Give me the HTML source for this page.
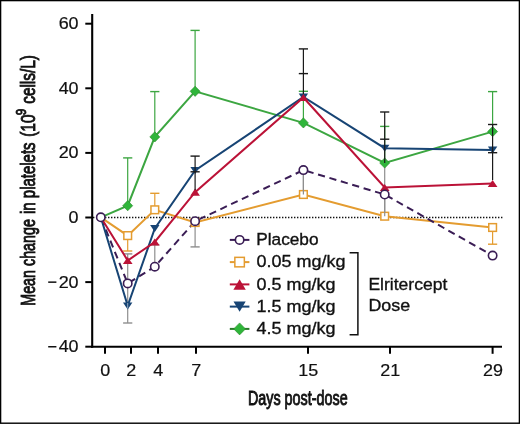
<!DOCTYPE html>
<html><head><meta charset="utf-8"><style>
html,body{margin:0;padding:0;background:#fff;}
svg{display:block;will-change:transform;}
text{font-family:"Liberation Sans",sans-serif;}
</style></head><body>
<svg width="520" height="424" viewBox="0 0 520 424">
<rect x="0.6" y="0.6" width="518.8" height="422.6" fill="#fff" stroke="#000" stroke-width="1.4"/>
<line x1="93" y1="217.5" x2="503.5" y2="217.5" stroke="#111" stroke-width="1.4" stroke-dasharray="1.4 1.6"/>
<line x1="127.70" y1="157.90" x2="127.70" y2="205.70" stroke="#3ca641" stroke-width="1.2"/><line x1="123.10" y1="157.90" x2="132.30" y2="157.90" stroke="#3ca641" stroke-width="1.4"/>
<line x1="127.70" y1="235.60" x2="127.70" y2="251.00" stroke="#e49c30" stroke-width="1.2"/><line x1="123.10" y1="251.00" x2="132.30" y2="251.00" stroke="#e49c30" stroke-width="1.4"/>
<line x1="127.70" y1="253.90" x2="127.70" y2="323.00" stroke="#8e8e8e" stroke-width="1.2"/><line x1="123.10" y1="253.90" x2="132.30" y2="253.90" stroke="#8e8e8e" stroke-width="1.4"/><line x1="123.10" y1="323.00" x2="132.30" y2="323.00" stroke="#8e8e8e" stroke-width="1.4"/>
<line x1="154.80" y1="91.60" x2="154.80" y2="136.90" stroke="#3ca641" stroke-width="1.2"/><line x1="150.20" y1="91.60" x2="159.40" y2="91.60" stroke="#3ca641" stroke-width="1.4"/>
<line x1="154.80" y1="193.30" x2="154.80" y2="209.80" stroke="#e49c30" stroke-width="1.2"/><line x1="150.20" y1="193.30" x2="159.40" y2="193.30" stroke="#e49c30" stroke-width="1.4"/>
<line x1="154.80" y1="244.80" x2="154.80" y2="266.70" stroke="#8e8e8e" stroke-width="1.2"/><line x1="150.20" y1="244.80" x2="159.40" y2="244.80" stroke="#8e8e8e" stroke-width="1.4"/>
<line x1="195.10" y1="30.40" x2="195.10" y2="91.30" stroke="#3ca641" stroke-width="1.2"/><line x1="190.50" y1="30.40" x2="199.70" y2="30.40" stroke="#3ca641" stroke-width="1.4"/>
<line x1="195.10" y1="221.00" x2="195.10" y2="246.90" stroke="#8e8e8e" stroke-width="1.2"/><line x1="190.50" y1="246.90" x2="199.70" y2="246.90" stroke="#8e8e8e" stroke-width="1.4"/>
<line x1="303.40" y1="91.30" x2="303.40" y2="122.90" stroke="#3ca641" stroke-width="1.2"/><line x1="298.80" y1="91.30" x2="308.00" y2="91.30" stroke="#3ca641" stroke-width="1.4"/>
<line x1="303.40" y1="170.00" x2="303.40" y2="194.00" stroke="#8e8e8e" stroke-width="1.2"/>
<line x1="384.70" y1="126.40" x2="384.70" y2="163.00" stroke="#3ca641" stroke-width="1.2"/><line x1="380.10" y1="126.40" x2="389.30" y2="126.40" stroke="#3ca641" stroke-width="1.4"/>
<line x1="384.70" y1="163.00" x2="384.70" y2="216.00" stroke="#8e8e8e" stroke-width="1.2"/>
<line x1="492.60" y1="91.60" x2="492.60" y2="131.60" stroke="#3ca641" stroke-width="1.2"/><line x1="488.00" y1="91.60" x2="497.20" y2="91.60" stroke="#3ca641" stroke-width="1.4"/>
<line x1="492.60" y1="227.50" x2="492.60" y2="244.20" stroke="#e49c30" stroke-width="1.2"/><line x1="488.00" y1="244.20" x2="497.20" y2="244.20" stroke="#e49c30" stroke-width="1.4"/>
<polyline points="100.8,217.3 127.7,235.6 154.8,209.8 195.1,222.5 303.4,194.5 384.7,216.2 492.6,227.5" fill="none" stroke="#e49c30" stroke-width="2" stroke-linejoin="miter"/>
<polyline points="100.8,217.3 127.7,283.4 154.8,266.7 195.1,221.2 303.4,170.1 384.7,194.5 492.6,255.6" fill="none" stroke="#3a1d55" stroke-width="2" stroke-linejoin="miter" stroke-dasharray="7.2 4.7" stroke-dashoffset="-1.5"/>
<polyline points="100.8,217.3 127.7,205.7 154.8,136.9 195.1,91.3 303.4,122.9 384.7,163.0 492.6,131.6" fill="none" stroke="#3ca641" stroke-width="2" stroke-linejoin="miter"/>
<polyline points="100.8,217.3 127.7,305.9 154.8,228.5 195.1,170.5 303.4,97.0 384.7,148.2 492.6,150.0" fill="none" stroke="#174474" stroke-width="2" stroke-linejoin="miter"/>
<polyline points="100.8,217.3 127.7,260.5 154.8,242.0 195.1,192.2 303.4,97.5 384.7,187.5 492.6,183.5" fill="none" stroke="#bb1237" stroke-width="2" stroke-linejoin="miter"/>
<rect x="123.85" y="231.75" width="7.70" height="7.70" fill="#fff" stroke="#e49c30" stroke-width="1.5"/>
<rect x="150.95" y="205.95" width="7.70" height="7.70" fill="#fff" stroke="#e49c30" stroke-width="1.5"/>
<rect x="191.25" y="218.65" width="7.70" height="7.70" fill="#fff" stroke="#e49c30" stroke-width="1.5"/>
<rect x="299.55" y="190.65" width="7.70" height="7.70" fill="#fff" stroke="#e49c30" stroke-width="1.5"/>
<rect x="380.85" y="212.35" width="7.70" height="7.70" fill="#fff" stroke="#e49c30" stroke-width="1.5"/>
<rect x="488.75" y="223.65" width="7.70" height="7.70" fill="#fff" stroke="#e49c30" stroke-width="1.5"/>
<line x1="303.40" y1="175.00" x2="303.40" y2="194.50" stroke="#8e8e8e" stroke-width="1.2"/>
<line x1="384.70" y1="199.40" x2="384.70" y2="216.20" stroke="#8e8e8e" stroke-width="1.2"/>
<polygon points="127.70,200.60 132.70,205.70 127.70,210.80 122.70,205.70" fill="#2fb53a" stroke="#2a8a2a" stroke-width="0.6"/>
<polygon points="154.80,131.80 159.80,136.90 154.80,142.00 149.80,136.90" fill="#2fb53a" stroke="#2a8a2a" stroke-width="0.6"/>
<polygon points="195.10,86.20 200.10,91.30 195.10,96.40 190.10,91.30" fill="#2fb53a" stroke="#2a8a2a" stroke-width="0.6"/>
<polygon points="303.40,117.80 308.40,122.90 303.40,128.00 298.40,122.90" fill="#2fb53a" stroke="#2a8a2a" stroke-width="0.6"/>
<polygon points="384.70,157.90 389.70,163.00 384.70,168.10 379.70,163.00" fill="#2fb53a" stroke="#2a8a2a" stroke-width="0.6"/>
<polygon points="492.60,126.50 497.60,131.60 492.60,136.70 487.60,131.60" fill="#2fb53a" stroke="#2a8a2a" stroke-width="0.6"/>
<polygon points="127.70,309.40 132.40,302.40 123.00,302.40" fill="#174474"/>
<polygon points="154.80,232.00 159.50,225.00 150.10,225.00" fill="#174474"/>
<polygon points="195.10,174.00 199.80,167.00 190.40,167.00" fill="#174474"/>
<polygon points="303.40,100.50 308.10,93.50 298.70,93.50" fill="#174474"/>
<polygon points="384.70,151.70 389.40,144.70 380.00,144.70" fill="#174474"/>
<polygon points="492.60,153.50 497.30,146.50 487.90,146.50" fill="#174474"/>
<polygon points="127.70,256.90 132.55,264.10 122.85,264.10" fill="#bb1237"/>
<polygon points="154.80,238.40 159.65,245.60 149.95,245.60" fill="#bb1237"/>
<polygon points="195.10,188.60 199.95,195.80 190.25,195.80" fill="#bb1237"/>
<polygon points="303.40,93.90 308.25,101.10 298.55,101.10" fill="#bb1237"/>
<polygon points="384.70,183.90 389.55,191.10 379.85,191.10" fill="#bb1237"/>
<polygon points="492.60,179.90 497.45,187.10 487.75,187.10" fill="#bb1237"/>
<line x1="195.10" y1="156.10" x2="195.10" y2="190.00" stroke="#1a1a1a" stroke-width="1.2"/><line x1="190.50" y1="156.10" x2="199.70" y2="156.10" stroke="#1a1a1a" stroke-width="1.4"/><line x1="190.50" y1="171.80" x2="199.70" y2="171.80" stroke="#1a1a1a" stroke-width="1.4"/>
<line x1="303.40" y1="48.90" x2="303.40" y2="94.00" stroke="#1a1a1a" stroke-width="1.2"/><line x1="298.80" y1="48.90" x2="308.00" y2="48.90" stroke="#1a1a1a" stroke-width="1.4"/><line x1="298.80" y1="73.60" x2="308.00" y2="73.60" stroke="#1a1a1a" stroke-width="1.4"/>
<line x1="384.70" y1="112.00" x2="384.70" y2="163.00" stroke="#1a1a1a" stroke-width="1.2"/><line x1="380.10" y1="112.00" x2="389.30" y2="112.00" stroke="#1a1a1a" stroke-width="1.4"/><line x1="380.10" y1="139.20" x2="389.30" y2="139.20" stroke="#1a1a1a" stroke-width="1.4"/>
<line x1="492.60" y1="124.50" x2="492.60" y2="180.00" stroke="#1a1a1a" stroke-width="1.2"/><line x1="488.00" y1="124.50" x2="497.20" y2="124.50" stroke="#1a1a1a" stroke-width="1.4"/><line x1="488.00" y1="152.70" x2="497.20" y2="152.70" stroke="#1a1a1a" stroke-width="1.4"/>
<line x1="127.70" y1="303.00" x2="127.70" y2="308.60" stroke="#8fa6be" stroke-width="1.0"/>
<circle cx="100.80" cy="217.30" r="4.2" fill="#fff" stroke="#3a1d55" stroke-width="1.6"/>
<circle cx="127.70" cy="283.40" r="4.2" fill="#fff" stroke="#3a1d55" stroke-width="1.6"/>
<circle cx="154.80" cy="266.70" r="4.2" fill="#fff" stroke="#3a1d55" stroke-width="1.6"/>
<circle cx="195.10" cy="221.20" r="4.2" fill="#fff" stroke="#3a1d55" stroke-width="1.6"/>
<circle cx="303.40" cy="170.10" r="4.2" fill="#fff" stroke="#3a1d55" stroke-width="1.6"/>
<circle cx="384.70" cy="194.50" r="4.2" fill="#fff" stroke="#3a1d55" stroke-width="1.6"/>
<circle cx="492.60" cy="255.60" r="4.2" fill="#fff" stroke="#3a1d55" stroke-width="1.6"/>
<line x1="92.2" y1="14" x2="92.2" y2="347.8" stroke="#000" stroke-width="2.1"/>
<line x1="91.2" y1="346.8" x2="502" y2="346.8" stroke="#000" stroke-width="2.1"/>
<line x1="85.3" y1="23.7" x2="92" y2="23.7" stroke="#000" stroke-width="2"/>
<line x1="85.3" y1="88.3" x2="92" y2="88.3" stroke="#000" stroke-width="2"/>
<line x1="85.3" y1="152.9" x2="92" y2="152.9" stroke="#000" stroke-width="2"/>
<line x1="85.3" y1="217.5" x2="92" y2="217.5" stroke="#000" stroke-width="2"/>
<line x1="85.3" y1="282.1" x2="92" y2="282.1" stroke="#000" stroke-width="2"/>
<line x1="85.3" y1="346.7" x2="92" y2="346.7" stroke="#000" stroke-width="2"/>
<line x1="105" y1="346" x2="105" y2="353.8" stroke="#000" stroke-width="2"/>
<line x1="131" y1="346" x2="131" y2="353.8" stroke="#000" stroke-width="2"/>
<line x1="158" y1="346" x2="158" y2="353.8" stroke="#000" stroke-width="2"/>
<line x1="196" y1="346" x2="196" y2="353.8" stroke="#000" stroke-width="2"/>
<line x1="308" y1="346" x2="308" y2="353.8" stroke="#000" stroke-width="2"/>
<line x1="390" y1="346" x2="390" y2="353.8" stroke="#000" stroke-width="2"/>
<line x1="492.6" y1="346" x2="492.6" y2="353.8" stroke="#000" stroke-width="2"/>
<text transform="translate(78.6,29.1) scale(1.07,1)" font-family="Liberation Sans, sans-serif" font-size="16.8" text-anchor="end" fill="#111" stroke="#111" stroke-width="0.2">60</text>
<text transform="translate(78.6,93.7) scale(1.07,1)" font-family="Liberation Sans, sans-serif" font-size="16.8" text-anchor="end" fill="#111" stroke="#111" stroke-width="0.2">40</text>
<text transform="translate(78.6,158.3) scale(1.07,1)" font-family="Liberation Sans, sans-serif" font-size="16.8" text-anchor="end" fill="#111" stroke="#111" stroke-width="0.2">20</text>
<text transform="translate(78.6,222.9) scale(1.07,1)" font-family="Liberation Sans, sans-serif" font-size="16.8" text-anchor="end" fill="#111" stroke="#111" stroke-width="0.2">0</text>
<text transform="translate(78.6,287.5) scale(1.07,1)" font-family="Liberation Sans, sans-serif" font-size="16.8" text-anchor="end" fill="#111" stroke="#111" stroke-width="0.2">20</text>
<rect x="48.2" y="281.4" width="8.2" height="1.5" fill="#111"/>
<text transform="translate(78.6,352.1) scale(1.07,1)" font-family="Liberation Sans, sans-serif" font-size="16.8" text-anchor="end" fill="#111" stroke="#111" stroke-width="0.2">40</text>
<rect x="48.2" y="346.0" width="8.2" height="1.5" fill="#111"/>
<text transform="translate(105.3,375.9) scale(1.07,1)" font-family="Liberation Sans, sans-serif" font-size="16.8" text-anchor="middle" fill="#111" stroke="#111" stroke-width="0.2">0</text>
<text transform="translate(131.3,375.9) scale(1.07,1)" font-family="Liberation Sans, sans-serif" font-size="16.8" text-anchor="middle" fill="#111" stroke="#111" stroke-width="0.2">2</text>
<text transform="translate(158.3,375.9) scale(1.07,1)" font-family="Liberation Sans, sans-serif" font-size="16.8" text-anchor="middle" fill="#111" stroke="#111" stroke-width="0.2">4</text>
<text transform="translate(196.3,375.9) scale(1.07,1)" font-family="Liberation Sans, sans-serif" font-size="16.8" text-anchor="middle" fill="#111" stroke="#111" stroke-width="0.2">7</text>
<text transform="translate(308.3,375.9) scale(1.07,1)" font-family="Liberation Sans, sans-serif" font-size="16.8" text-anchor="middle" fill="#111" stroke="#111" stroke-width="0.2">15</text>
<text transform="translate(390.3,375.9) scale(1.07,1)" font-family="Liberation Sans, sans-serif" font-size="16.8" text-anchor="middle" fill="#111" stroke="#111" stroke-width="0.2">21</text>
<text transform="translate(492.90000000000003,375.9) scale(1.07,1)" font-family="Liberation Sans, sans-serif" font-size="16.8" text-anchor="middle" fill="#111" stroke="#111" stroke-width="0.2">29</text>
<text transform="translate(297.8,405.0) scale(0.741,1)" font-family="Liberation Sans, sans-serif" font-size="19.4" stroke="#111" stroke-width="0.9" text-anchor="middle" fill="#111">Days post-dose</text>
<text transform="translate(35.0,305.8) rotate(-90) scale(0.724,1)" font-family="Liberation Sans, sans-serif" font-size="19.8" font-weight="normal" stroke="#111" stroke-width="0.9" fill="#111">Mean change</text>
<text transform="translate(35.0,214.0) rotate(-90) scale(0.756,1)" font-family="Liberation Sans, sans-serif" font-size="19.8" font-weight="normal" stroke="#111" stroke-width="0.9" fill="#111">in platelets</text>
<text transform="translate(35.0,136.8) rotate(-90) scale(0.78,1)" font-family="Liberation Sans, sans-serif" font-size="19.8" font-weight="normal" stroke="#111" stroke-width="0.9" fill="#111">(10</text>
<text transform="translate(26.4,115.2) rotate(-90) scale(0.84,1)" font-family="Liberation Sans, sans-serif" font-size="14.0" font-weight="normal" stroke="#111" stroke-width="0.9" fill="#111">9</text>
<text transform="translate(35.0,103.8) rotate(-90) scale(0.778,1)" font-family="Liberation Sans, sans-serif" font-size="19.8" font-weight="normal" stroke="#111" stroke-width="0.9" fill="#111">cells/L)</text>
<line x1="229.8" y1="239.9" x2="249.4" y2="239.9" stroke="#3a1d55" stroke-width="2"/>
<line x1="229.8" y1="262.1" x2="249.4" y2="262.1" stroke="#e49c30" stroke-width="2"/>
<line x1="229.8" y1="284.4" x2="249.4" y2="284.4" stroke="#bb1237" stroke-width="2"/>
<line x1="229.8" y1="306.6" x2="249.4" y2="306.6" stroke="#174474" stroke-width="2"/>
<line x1="229.8" y1="328.9" x2="249.4" y2="328.9" stroke="#2a7a2a" stroke-width="2"/>
<circle cx="239.60" cy="239.90" r="4.2" fill="#fff" stroke="#3a1d55" stroke-width="1.6"/>
<rect x="234.85" y="257.35" width="9.50" height="9.50" fill="#fff" stroke="#e49c30" stroke-width="1.5"/>
<polygon points="239.60,279.15 245.80,289.65 233.40,289.65" fill="#bb1237"/>
<polygon points="239.60,311.80 245.70,301.40 233.50,301.40" fill="#174474"/>
<polygon points="239.60,322.90 245.48,328.90 239.60,334.90 233.72,328.90" fill="#2fb53a" stroke="#2a8a2a" stroke-width="0.6"/>
<text transform="translate(256.2,245.1) scale(1.004,1)" font-family="Liberation Sans, sans-serif" font-size="17.2" fill="#111" stroke="#111" stroke-width="0.35">Placebo</text>
<text transform="translate(256.6,267.3) scale(1.045,1)" font-family="Liberation Sans, sans-serif" font-size="17.2" fill="#111" stroke="#111" stroke-width="0.35">0.05 mg/kg</text>
<text transform="translate(256.6,289.6) scale(1.045,1)" font-family="Liberation Sans, sans-serif" font-size="17.2" fill="#111" stroke="#111" stroke-width="0.35">0.5 mg/kg</text>
<text transform="translate(256.6,311.8) scale(1.045,1)" font-family="Liberation Sans, sans-serif" font-size="17.2" fill="#111" stroke="#111" stroke-width="0.35">1.5 mg/kg</text>
<text transform="translate(256.6,334.1) scale(1.045,1)" font-family="Liberation Sans, sans-serif" font-size="17.2" fill="#111" stroke="#111" stroke-width="0.35">4.5 mg/kg</text>
<polyline points="349.6,252.7 357.9,252.7 357.9,334.8 349.6,334.8" fill="none" stroke="#111" stroke-width="1.5"/>
<text transform="translate(368.4,289.9) scale(1.02,1)" font-family="Liberation Sans, sans-serif" font-size="17.2" fill="#111" stroke="#111" stroke-width="0.35">Elritercept</text>
<text transform="translate(368.4,311.0) scale(1.04,1)" font-family="Liberation Sans, sans-serif" font-size="17.2" fill="#111" stroke="#111" stroke-width="0.35">Dose</text>
</svg>
</body></html>
